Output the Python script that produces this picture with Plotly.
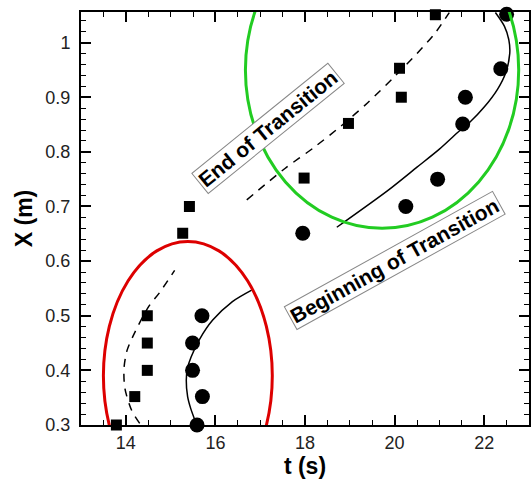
import plotly.graph_objects as go

# Measured data (t in s, X in m)
sq_t = [13.79, 14.20, 14.48, 14.48, 14.48, 15.27, 15.42, 17.98, 18.97, 20.15, 20.11, 20.91]
sq_x = [0.300, 0.352, 0.400, 0.450, 0.500, 0.651, 0.700, 0.752, 0.852, 0.900, 0.953, 1.051]

ci_t = [15.59, 15.71, 15.49, 15.49, 15.70, 17.95, 20.25, 20.96, 21.52, 21.58, 22.37, 22.50]
ci_x = [0.300, 0.352, 0.400, 0.450, 0.500, 0.651, 0.700, 0.750, 0.851, 0.900, 0.952, 1.052]

dash_lo_t = [14.31, 14.13, 13.98, 13.96, 14.03, 14.21, 14.52, 14.75, 15.09]
dash_lo_x = [0.303, 0.327, 0.367, 0.404, 0.437, 0.471, 0.518, 0.542, 0.583]

solid_lo_t = [15.57, 15.45, 15.38, 15.35, 15.38, 15.46, 15.64, 15.94, 16.38, 16.81]
solid_lo_x = [0.303, 0.330, 0.352, 0.382, 0.405, 0.425, 0.456, 0.492, 0.526, 0.547]

dash_hi_t = [16.70, 17.56, 18.20, 18.80, 19.40, 20.00, 20.50, 20.90, 21.22]
dash_hi_x = [0.712, 0.770, 0.808, 0.847, 0.890, 0.938, 0.980, 1.017, 1.055]

solid_hi_t = [18.71, 19.86, 20.50, 21.00, 21.40, 21.70, 22.00, 22.30, 22.48, 22.57, 22.55, 22.45, 22.25]
solid_hi_x = [0.662, 0.730, 0.772, 0.805, 0.835, 0.856, 0.882, 0.915, 0.945, 0.980, 1.005, 1.030, 1.055]

red_ell_t = [13.50, 17.27]
red_ell_x = [0.144, 0.636]
green_ell_t = [16.67, 22.77]
green_ell_x = [0.660, 1.240]

x_range = [13, 23]
y_range = [0.3, 1.056]

FONT = "Liberation Sans, Arial, sans-serif"

fig = go.Figure()
fig.add_trace(go.Scatter(x=dash_lo_t, y=dash_lo_x, mode="lines",
                         line=dict(color="black", width=1.5, dash="8px,7px", shape="spline", smoothing=0.8)))
fig.add_trace(go.Scatter(x=solid_lo_t, y=solid_lo_x, mode="lines",
                         line=dict(color="black", width=1.5, shape="spline", smoothing=0.8)))
fig.add_trace(go.Scatter(x=dash_hi_t, y=dash_hi_x, mode="lines",
                         line=dict(color="black", width=1.5, dash="8px,7px", shape="spline", smoothing=0.8)))
fig.add_trace(go.Scatter(x=solid_hi_t, y=solid_hi_x, mode="lines",
                         line=dict(color="black", width=1.5, shape="spline", smoothing=0.8)))
fig.add_trace(go.Scatter(x=sq_t, y=sq_x, mode="markers", cliponaxis=False,
                         marker=dict(symbol="square", size=11, color="black")))
fig.add_trace(go.Scatter(x=ci_t, y=ci_x, mode="markers", cliponaxis=False,
                         marker=dict(symbol="circle", size=15, color="black")))

fig.add_shape(type="circle", xref="x", yref="y",
              x0=red_ell_t[0], x1=red_ell_t[1], y0=red_ell_x[0], y1=red_ell_x[1],
              line=dict(color="#dd0000", width=3))
fig.add_shape(type="circle", xref="x", yref="y",
              x0=green_ell_t[0], x1=green_ell_t[1], y0=green_ell_x[0], y1=green_ell_x[1],
              line=dict(color="#22cc22", width=3))

fig.add_annotation(x=17.17, y=0.843, xref="x", yref="y", text="<b>End of Transition</b>",
                   textangle=-39, showarrow=False, bgcolor="white", bordercolor="#888888",
                   borderwidth=1, borderpad=1, font=dict(family=FONT, size=21, color="black"))
fig.add_annotation(x=20.0, y=0.602, xref="x", yref="y", text="<b>Beginning of Transition</b>",
                   textangle=-29, showarrow=False, bgcolor="white", bordercolor="#888888",
                   borderwidth=1, borderpad=1, font=dict(family=FONT, size=21, color="black"))

axis_common = dict(showgrid=False, zeroline=False, showline=True, linecolor="black", linewidth=2,
                   mirror="ticks", ticks="inside", ticklen=10, tickwidth=2, tickcolor="black",
                   tickfont=dict(family=FONT, size=18, color="#222222"))

fig.update_xaxes(range=x_range, tick0=14, dtick=2,
                 minor=dict(dtick=0.5, ticks="inside", ticklen=5, tickwidth=1, tickcolor="black"),
                 title=dict(text="<b>t (s)</b>", font=dict(family=FONT, size=23, color="black"), standoff=8),
                 **axis_common)
fig.update_yaxes(range=y_range, tick0=0.3, dtick=0.1, ticklabelstandoff=5,
                 minor=dict(dtick=0.02, ticks="inside", ticklen=5, tickwidth=1, tickcolor="black"),
                 title=dict(text="<b>X (m)</b>", font=dict(family=FONT, size=23, color="black"), standoff=6),
                 **axis_common)

fig.update_layout(width=531, height=479, margin=dict(l=81, r=0, t=12, b=54),
                  plot_bgcolor="white", paper_bgcolor="white", showlegend=False)

fig.write_html("out.html")
